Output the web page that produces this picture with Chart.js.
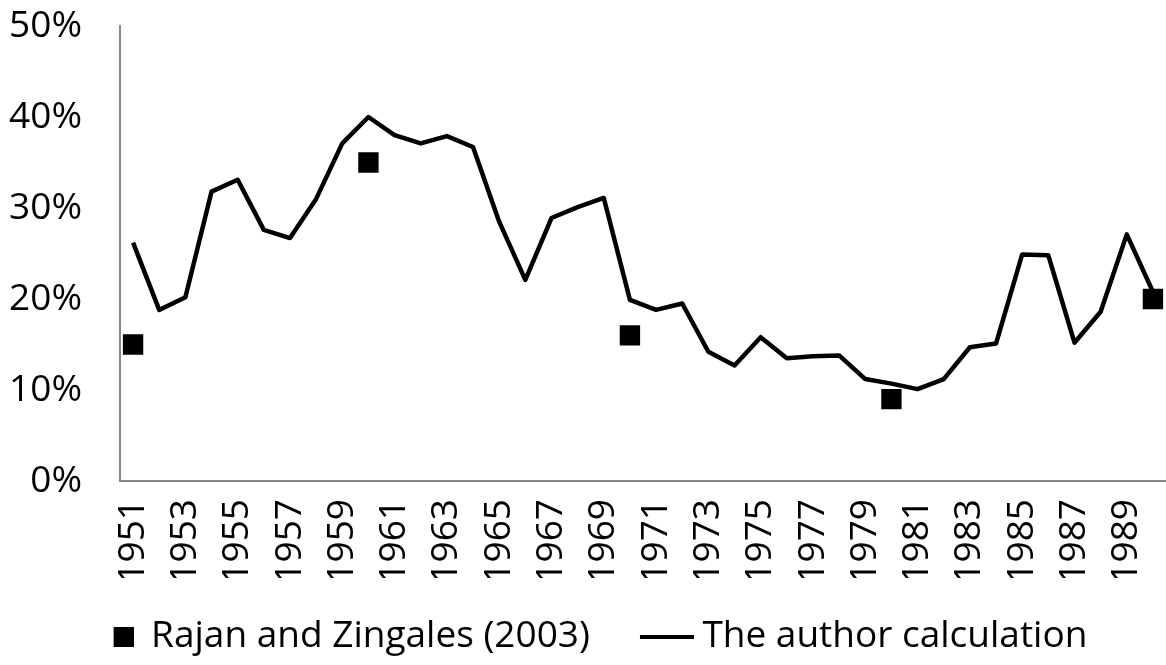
<!DOCTYPE html>
<html>
<head>
<meta charset="utf-8">
<script src="https://cdn.jsdelivr.net/npm/chart.js@4"></script>
<style>
  html, body { margin: 0; padding: 0; background: #fff; overflow: hidden; }
  #wrap { width: 1166px; height: 665px; }
  canvas { display: block; }
</style>
</head>
<body>
<div id="wrap"><canvas id="chart"></canvas></div>
<script>
const years = [
  "1951", "1952", "1953", "1954", "1955", "1956", "1957", "1958", "1959", "1960",
  "1961", "1962", "1963", "1964", "1965", "1966", "1967", "1968", "1969", "1970",
  "1971", "1972", "1973", "1974", "1975", "1976", "1977", "1978", "1979", "1980",
  "1981", "1982", "1983", "1984", "1985", "1986", "1987", "1988", "1989", "1990"
]

// percent
const authorValues = [
  26.2, 18.8, 20.2, 31.8, 33.1, 27.6, 26.7, 31.0, 37.1, 40.0,
  38.0, 37.1, 37.9, 36.7, 28.5, 22.1, 28.9, 30.1, 31.1, 19.9,
  18.8, 19.5, 14.2, 12.7, 15.8, 13.5, 13.7, 13.8, 11.2, 10.7,
  10.1, 11.2, 14.7, 15.1, 24.9, 24.8, 15.2, 18.6, 27.1, 20.8
]

const rzYears = ["1951", "1960", "1970", "1980", "1990"]
const rzValues = [15, 35, 16, 9, 20]

const yTicks = [0, 10, 20, 30, 40, 50]

const FONT = "'Open Sans'"
const FS = 37

// legend icons, drawn a bit off-centre so the gaps match the original
const squareIcon = document.createElement("canvas")
squareIcon.width = 56
squareIcon.height = 20
let g = squareIcon.getContext("2d")
g.fillStyle = "#000"
g.fillRect(36, 0, 20, 20)

const lineIcon = document.createElement("canvas")
lineIcon.width = 74
lineIcon.height = 4
g = lineIcon.getContext("2d")
g.fillStyle = "#000"
g.fillRect(20, 0, 54, 4)

new Chart(document.getElementById("chart"), {
  data: {
    labels: years,
    datasets: [{
      type: "scatter",
      label: "Rajan and Zingales (2003)",
      data: rzYears.map((y, i) => ({ x: y, y: rzValues[i] })),
      pointStyle: "rect",
      pointRadius: 14.4,
      pointHoverRadius: 14.4,
      backgroundColor: "#000",
      borderWidth: 0
    }, {
      type: "line",
      label: "The author calculation",
      data: authorValues,
      borderColor: "#000",
      borderWidth: 4.5,
      borderJoinStyle: "round",
      tension: 0,
      pointRadius: 0,
      fill: false
    }]
  },
  options: {
    responsive: true,
    maintainAspectRatio: false,
    animation: false,
    layout: { padding: 0, autoPadding: false },
    plugins: {
      tooltip: { enabled: false },
      legend: {
        position: "bottom",
        labels: {
          color: "#000",
          font: { family: FONT, size: FS },
          usePointStyle: true,
          pointStyleWidth: 54,
          padding: 40,
          generateLabels(chart) {
            const items = Chart.defaults.plugins.legend.labels.generateLabels(chart)
            items[0].pointStyle = squareIcon
            items[1].pointStyle = lineIcon
            return items
          }
        }
      }
    },
    scales: {
      x: {
        type: "category",
        offset: true,
        grid: { display: false, drawTicks: false },
        border: { display: true, color: "#888", width: 2 },
        afterFit(scale) {
          scale.height = 97
          scale.paddingLeft = 0
          scale.paddingRight = 0
        },
        ticks: {
          color: "#000",
          font: { family: FONT, size: FS },
          autoSkip: false,
          minRotation: 90,
          maxRotation: 90,
          padding: 18,
          callback(v, i) { return i % 2 === 0 ? years[i] : "" }
        }
      },
      y: {
        min: 0,
        max: 50,
        grid: { display: false, drawTicks: false },
        border: { display: true, color: "#888", width: 2 },
        afterBuildTicks(scale) { scale.ticks = yTicks.map(v => ({ value: v })) },
        afterFit(scale) {
          scale.width = 120
          scale.paddingTop = 26
          scale.paddingBottom = 0
        },
        ticks: {
          color: "#000",
          font: { family: FONT, size: FS },
          padding: 38,
          callback: v => v + "%"
        }
      }
    }
  }
})
</script>
</body>
</html>
